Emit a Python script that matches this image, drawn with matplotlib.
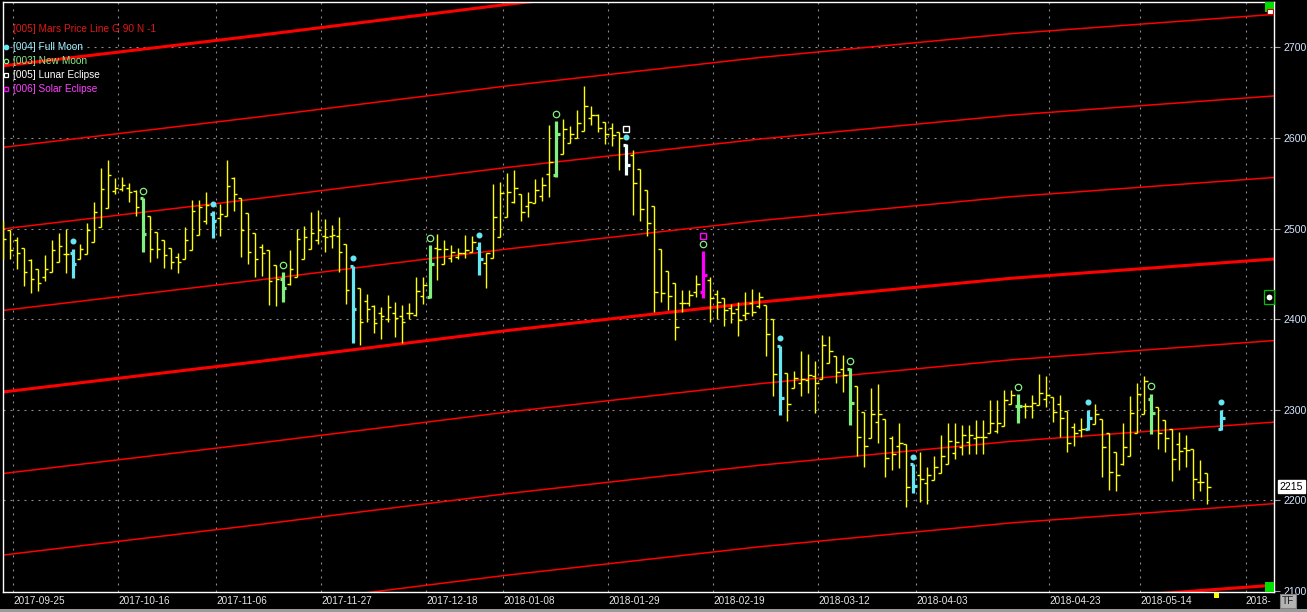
import numpy as np
import matplotlib.pyplot as plt
from matplotlib.patches import Rectangle

plt.rcParams['font.family'] = ['Liberation Sans', 'DejaVu Sans']

W, H = 1307, 612

# daily bars, one entry per bar slot on the chart (slot 173 is empty)
opens = [2507, 2498, 2488, 2479, 2465, 2455, 2447, 2452, 2463, 2472,
         2473, 2466, 2472, 2485, 2502, 2523, 2542, 2544, 2545, 2542,
         2534, 2514, 2496, 2488, 2479, 2469, 2466, 2477, 2493, 2509,
         2516, 2512, 2514, 2556, 2534, 2517, 2495, 2480, 2477, 2460,
         2444, 2439, 2447, 2466, 2478, 2488, 2492, 2492, 2492, 2483,
         2459, 2435, 2420, 2415, 2407, 2400, 2407, 2404, 2407, 2405,
         2426, 2425, 2479, 2461, 2468, 2469, 2473, 2474, 2479, 2462,
         2468, 2491, 2513, 2530, 2538, 2525, 2528, 2536, 2560, 2559,
         2582, 2595, 2600, 2608, 2622, 2626, 2618, 2611, 2607, 2592,
         2581, 2566, 2543, 2525, 2478, 2453, 2440, 2418, 2418, 2430,
         2430, 2443, 2428, 2423, 2412, 2411, 2405, 2418, 2415, 2416,
         2400, 2371, 2341, 2324, 2330, 2333, 2337, 2334, 2352, 2360,
         2345, 2345, 2326, 2298, 2269, 2287, 2290, 2269, 2260, 2262,
         2240, 2228, 2219, 2223, 2230, 2240, 2252, 2259, 2265, 2269,
         2270, 2275, 2277, 2282, 2307, 2304, 2304, 2304, 2305, 2312,
         2314, 2307, 2299, 2281, 2278, 2279, 2284, 2290, 2275, 2253,
         2240, 2249, 2274, 2295, 2312, 2303, 2289, 2279, 2262, 2258,
         2257, 2220, 2230, np.nan, 2279]
highs = [2508, 2499, 2491, 2479, 2466, 2456, 2471, 2488, 2495, 2500,
         2478, 2483, 2506, 2529, 2567, 2576, 2556, 2557, 2550, 2543,
         2534, 2514, 2496, 2488, 2479, 2473, 2502, 2532, 2532, 2540,
         2519, 2527, 2576, 2557, 2534, 2517, 2495, 2483, 2477, 2460,
         2452, 2477, 2500, 2503, 2518, 2521, 2511, 2504, 2513, 2483,
         2459, 2435, 2428, 2416, 2414, 2427, 2419, 2416, 2418, 2447,
         2447, 2482, 2494, 2488, 2482, 2479, 2493, 2492, 2485, 2473,
         2549, 2551, 2562, 2565, 2538, 2540, 2555, 2557, 2614, 2619,
         2621, 2613, 2631, 2658, 2635, 2627, 2618, 2617, 2607, 2593,
         2587, 2566, 2543, 2525, 2478, 2453, 2440, 2432, 2432, 2449,
         2475, 2447, 2432, 2423, 2417, 2419, 2430, 2433, 2430, 2416,
         2400, 2371, 2341, 2343, 2365, 2362, 2354, 2383, 2382, 2360,
         2361, 2346, 2326, 2298, 2324, 2329, 2290, 2271, 2285, 2262,
         2240, 2253, 2237, 2249, 2272, 2286, 2286, 2283, 2283, 2289,
         2289, 2311, 2311, 2322, 2322, 2317, 2308, 2316, 2340, 2337,
         2314, 2316, 2299, 2286, 2291, 2300, 2307, 2290, 2275, 2253,
         2286, 2315, 2330, 2337, 2318, 2303, 2289, 2279, 2276, 2272,
         2257, 2245, 2230, np.nan, 2300]
lows = [2467, 2466, 2456, 2437, 2429, 2431, 2442, 2452, 2463, 2451,
        2446, 2466, 2472, 2485, 2502, 2523, 2538, 2542, 2530, 2514,
        2474, 2463, 2468, 2457, 2455, 2451, 2466, 2477, 2493, 2505,
        2490, 2492, 2514, 2519, 2469, 2461, 2447, 2448, 2416, 2415,
        2419, 2438, 2447, 2466, 2478, 2483, 2474, 2479, 2452, 2417,
        2374, 2372, 2397, 2385, 2378, 2397, 2381, 2374, 2400, 2404,
        2417, 2424, 2443, 2461, 2463, 2466, 2468, 2474, 2449, 2435,
        2468, 2491, 2513, 2528, 2508, 2513, 2528, 2531, 2535, 2557,
        2582, 2595, 2600, 2608, 2614, 2607, 2594, 2591, 2565, 2559,
        2515, 2509, 2492, 2408, 2419, 2410, 2377, 2408, 2415, 2425,
        2424, 2397, 2400, 2393, 2396, 2382, 2399, 2404, 2412, 2360,
        2315, 2294, 2288, 2324, 2315, 2319, 2297, 2334, 2352, 2330,
        2320, 2283, 2249, 2237, 2269, 2264, 2226, 2234, 2236, 2193,
        2208, 2198, 2196, 2223, 2230, 2240, 2246, 2250, 2251, 2251,
        2251, 2275, 2275, 2282, 2306, 2286, 2291, 2291, 2305, 2303,
        2287, 2270, 2253, 2260, 2270, 2278, 2284, 2226, 2212, 2211,
        2239, 2249, 2274, 2295, 2273, 2257, 2254, 2221, 2234, 2237,
        2202, 2210, 2196, np.nan, 2278]
closes = [2489, 2477, 2473, 2452, 2444, 2440, 2456, 2477, 2481, 2472,
          2461, 2478, 2498, 2518, 2544, 2559, 2545, 2548, 2541, 2524,
          2494, 2478, 2478, 2471, 2463, 2463, 2487, 2519, 2524, 2526,
          2509, 2516, 2547, 2538, 2499, 2474, 2466, 2473, 2442, 2444,
          2435, 2456, 2489, 2491, 2495, 2499, 2491, 2493, 2474, 2432,
          2411, 2397, 2411, 2396, 2404, 2414, 2401, 2397, 2407, 2431,
          2438, 2461, 2478, 2478, 2474, 2473, 2477, 2485, 2467, 2473,
          2513, 2539, 2540, 2545, 2518, 2530, 2543, 2548, 2574, 2605,
          2610, 2605, 2617, 2635, 2626, 2611, 2605, 2603, 2600, 2570,
          2550, 2522, 2506, 2430, 2429, 2426, 2391, 2418, 2427, 2439,
          2449, 2424, 2419, 2410, 2407, 2399, 2407, 2408, 2425, 2384,
          2340, 2313, 2306, 2335, 2334, 2339, 2330, 2372, 2365, 2342,
          2339, 2308, 2270, 2260, 2296, 2296, 2247, 2251, 2263, 2215,
          2216, 2224, 2228, 2237, 2249, 2266, 2265, 2272, 2272, 2270,
          2270, 2286, 2286, 2311, 2316, 2304, 2304, 2308, 2319, 2316,
          2298, 2291, 2263, 2274, 2279, 2291, 2296, 2259, 2231, 2228,
          2259, 2297, 2318, 2332, 2297, 2274, 2269, 2246, 2255, 2256,
          2224, 2220, 2215, np.nan, 2291]

full_moon = [10, 30, 50, 68, 89, 111, 130, 155, 174]
new_moon = [20, 40, 61, 79, 100, 121, 145, 164]
lunar_eclipse = [89]
solar_eclipse = [100]

tick_bars = [2, 17, 31, 46, 61, 72, 87, 102, 117, 131, 150, 163, 178]
tick_labels = ['2017-09-25', '2017-10-16', '2017-11-06', '2017-11-27',
               '2017-12-18', '2018-01-08', '2018-01-29', '2018-02-19',
               '2018-03-12', '2018-04-03', '2018-04-23', '2018-05-14', '2018-']

# Mars price line (base harmonic), read at a few bars
mars_bars = [0, 36, 72, 108, 144, 182]
mars_price = [2319.8, 2352.9, 2387.6, 2418.9, 2445.3, 2466.8]

YELLOW = '#ffff00'
CYAN = '#66e8f2'
GREEN = '#80f080'
MAGENTA = '#ff00ff'

fig = plt.figure(figsize=(W / 100, H / 100), dpi=100, facecolor='black')
ax = fig.add_axes([3 / W, 20 / H, 1271 / W, 590 / H])
ax.set_facecolor('black')

# grid
for p in range(2200, 2701, 100):
    ax.axhline(p, color='#8c8c8c', lw=0.8, dashes=(1.8, 4.5), zorder=1)
for b in tick_bars:
    ax.axvline(b - 0.57, color='#8c8c8c', lw=0.8, dashes=(1.8, 4.5), zorder=1)

# Mars harmonics, every 90 points, thick every 360
mb = np.array(mars_bars)
mp = np.array(mars_price)
for n in range(-4, 5):
    thick = n % 4 == 0
    ax.plot(mb, mp + 90 * n, color='#ff0000', lw=2.2 if thick else 1.1, zorder=2)

# OHLC bars
o = np.array(opens, dtype=float)
h = np.array(highs, dtype=float)
l = np.array(lows, dtype=float)
c = np.array(closes, dtype=float)
x = np.arange(len(o))
cols = [YELLOW] * len(x)
lws = [1.0] * len(x)
for i in full_moon:
    cols[i], lws[i] = CYAN, 2.3
for i in new_moon:
    cols[i], lws[i] = GREEN, 2.3
for i in lunar_eclipse:
    cols[i] = '#f4ffff'
for i in solar_eclipse:
    cols[i] = MAGENTA
ok = ~np.isnan(o)
xs = x[ok]
cs = [cols[i] for i in xs]
ws = [lws[i] for i in xs]
ax.vlines(xs, l[ok], h[ok], colors=cs, linewidths=ws, zorder=3)
ax.hlines(o[ok], xs - 0.45, xs, colors=cs, linewidths=ws, zorder=3)
ax.hlines(c[ok], xs, xs + 0.45, colors=cs, linewidths=ws, zorder=3)

# moon / eclipse markers above the bars
ax.plot(full_moon, h[full_moon] + 8.5, 'o', ms=3.3, color=CYAN, zorder=4)
ax.plot(new_moon, h[new_moon] + 8.0, 'o', ms=4.6, mfc='none', mec=GREEN, mew=0.9, zorder=4)
ax.plot(lunar_eclipse, h[lunar_eclipse] + 17, 's', ms=4.3, mfc='none', mec='white', mew=1.0, zorder=4)
ax.plot(solar_eclipse, h[solar_eclipse] + 17, 's', ms=4.3, mfc='none', mec=MAGENTA, mew=1.0, zorder=4)

ax.set_xlim(-0.04, 181.5)
ax.set_ylim(2099.0, 2750.2)

for s in ax.spines.values():
    s.set_color('white')
    s.set_linewidth(1.0)

ax.yaxis.tick_right()
ax.set_yticks(range(2100, 2701, 100))
ax.tick_params(axis='y', colors='#a0a0a0', labelcolor='#d6e6ff', length=4,
               width=0.8, pad=3, labelsize=7.6)
ax.set_xticks([b - 0.57 for b in tick_bars])
ax.set_xticklabels(tick_labels, ha='left')
ax.tick_params(axis='x', length=0, pad=3, labelcolor='#e6e6e6', labelsize=7.2)

# legend in the top-left corner
def axfrac(px, py):
    return (px - 3) / 1271, (592 - py) / 590

legend = [('[005] Mars Price Line G 90 N -1', '#e01818', 29, None),
          ('[004] Full Moon', '#9ff0ff', 47, ('o', CYAN, CYAN)),
          ('[003] New Moon', '#86ec86', 61, ('o', 'none', GREEN)),
          ('[005] Lunar Eclipse', '#ffffff', 75, ('s', 'none', 'white')),
          ('[006] Solar Eclipse', '#ff40ff', 89, ('s', 'none', MAGENTA))]
for txt, col, py, mk in legend:
    tx, ty = axfrac(13, py)
    ax.text(tx, ty, txt, color=col, fontsize=7.3, va='center', ha='left',
            transform=ax.transAxes, zorder=5)
    if mk:
        mx, my = axfrac(6, py)
        ax.plot([mx], [my], mk[0], ms=3.2, mfc=mk[1], mec=mk[2], mew=0.9,
                transform=ax.transAxes, clip_on=False, zorder=5)

# last price tag
ax.text(1.0 + 6 / 1271, c[172], '%d' % round(c[172]), transform=ax.get_yaxis_transform(),
        color='black', fontsize=7.6, va='center', ha='left',
        bbox=dict(boxstyle='square,pad=0.15', fc='white', ec='white'))

# chart-window decorations
def fig_rect(px, py, pw, ph, **kw):
    fig.add_artist(Rectangle((px / W, 1 - (py + ph) / H), pw / W, ph / H,
                             transform=fig.transFigure, **kw))

fig_rect(1265, 2, 9, 10, fc='#00e000', ec='none')
fig_rect(1266.5, 9, 6, 5, fc='white', ec='#d00000', lw=0.8)
fig_rect(1265, 582, 9, 10, fc='#00e000', ec='none')
fig_rect(1264, 290, 10, 14, fc='black', ec='#00c000', lw=0.9)
fig.add_artist(plt.Line2D([1269 / W], [1 - 297 / H], marker='o', ms=5, mfc='white',
                          mec='black', mew=0.8, transform=fig.transFigure))
fig_rect(1214, 593, 5, 5, fc=YELLOW, ec='none')
fig_rect(0, 609, W, 3, fc='#9a9a9a', ec='none')
fig.text(1288 / W, 1 - 601 / H, 'TF', color='#202020', fontsize=7.3, ha='center', va='center',
         bbox=dict(boxstyle='square,pad=0.2', fc='#b4b4b4', ec='#808080', lw=0.8))

fig.savefig('out.png', dpi=100, facecolor='black')
